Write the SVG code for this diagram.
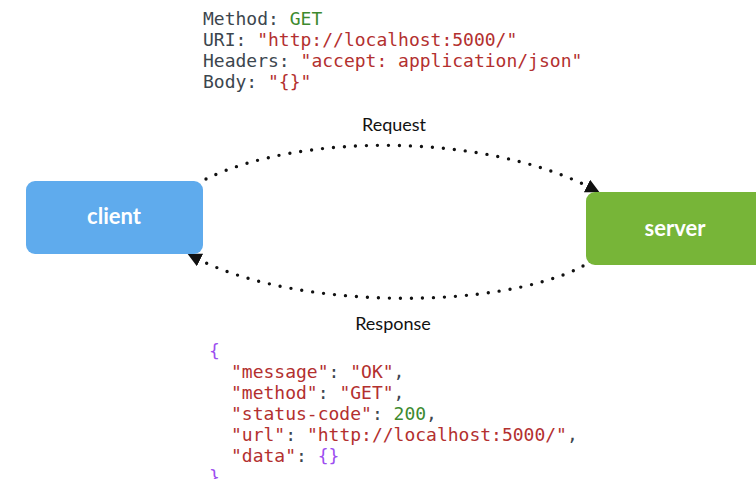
<svg xmlns="http://www.w3.org/2000/svg" width="756" height="479" viewBox="0 0 756 479">
<style>
.code{font-family:"DejaVu Sans Mono","Liberation Mono",monospace;font-size:18px;fill:#3c464e}
.s{fill:#b3302f}
.n{fill:#3d8a2f}
.p{fill:#9d4ef0}
.node-label{font-family:Lato,"Open Sans",sans-serif;font-weight:bold;font-size:22px;fill:#fff}
.edge-label{font-family:Lato,"Open Sans",sans-serif;font-size:18px;fill:#111}
.edge{fill:none;stroke:#111;stroke-width:3.4;stroke-linecap:round;stroke-dasharray:0 11}
</style>
<defs>
<marker id="arrow" markerUnits="userSpaceOnUse" markerWidth="16" markerHeight="16" refX="0" refY="7" orient="auto">
<path d="M0,0 L14,7 L0,14 z" fill="#111"/>
</marker>
</defs>
<rect width="756" height="479" fill="#fff"/>
<g id="request-text" class="code">
<text x="203" y="25">Method: <tspan class="n">GET</tspan></text>
<text x="203" y="46">URI: <tspan class="s">"http://localhost:5000/"</tspan></text>
<text x="203" y="67">Headers: <tspan class="s">"accept: application/json"</tspan></text>
<text x="203" y="88">Body: <tspan class="s">"{}"</tspan></text>
</g>
<g id="connectors">
<path class="edge" d="M206,179 C300,133 480,133 587,186" marker-end="url(#arrow)"/>
<path class="edge" d="M583,266 C500,310 300,310 200,260" marker-end="url(#arrow)"/>
<text class="edge-label" x="394" y="131" text-anchor="middle">Request</text>
<text class="edge-label" x="393" y="330" text-anchor="middle">Response</text>
</g>
<g id="client">
<rect x="26" y="181" width="177" height="73" rx="9" fill="#5fabed"/>
<text class="node-label" x="114" y="224" text-anchor="middle">client</text>
</g>
<g id="server">
<rect x="586" y="192" width="180" height="73" rx="9" fill="#77b538"/>
<text class="node-label" x="675" y="236" text-anchor="middle">server</text>
</g>
<g id="response-text" class="code">
<text x="209" y="357" class="code p">{</text>
<text x="231" y="378"><tspan class="s">"message"</tspan>: <tspan class="s">"OK"</tspan>,</text>
<text x="231" y="399"><tspan class="s">"method"</tspan>: <tspan class="s">"GET"</tspan>,</text>
<text x="231" y="420"><tspan class="s">"status-code"</tspan>: <tspan class="n">200</tspan>,</text>
<text x="231" y="441"><tspan class="s">"url"</tspan>: <tspan class="s">"http://localhost:5000/"</tspan>,</text>
<text x="231" y="462"><tspan class="s">"data"</tspan>: <tspan class="p">{}</tspan></text>
<text x="209" y="483" class="code p">}</text>
</g>
</svg>
